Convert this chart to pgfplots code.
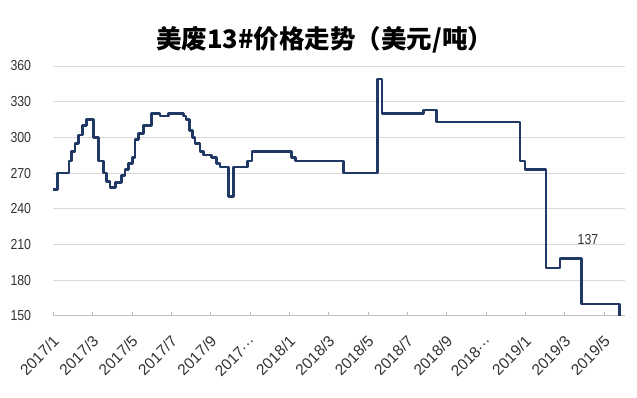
\documentclass[border=0pt]{standalone}
\usepackage{pgfplots}
\pgfplotsset{compat=1.18}
\usepackage{fontspec}
\setmainfont{Liberation Sans}[FakeStretch=0.85]
\newfontfamily\xfont{Liberation Sans}
\newfontfamily\cjk{Noto Sans CJK SC}
\definecolor{navy}{RGB}{31,56,100}
\definecolor{gridgray}{RGB}{217,217,217}
\definecolor{axgray}{RGB}{191,191,191}
\definecolor{txtgray}{RGB}{50,50,50}
\begin{document}
\begin{tikzpicture}[x=1pt,y=1pt]
\useasboundingbox (0,0) rectangle (637,398);
\begin{axis}[
  at={(53.3pt,82.3pt)}, anchor=south west,
  scale only axis, width=571.7pt, height=249.7pt,
  xmin=0, xmax=29.06, ymin=150, ymax=360,
  ytick={150,180,...,360},
  xtick={0,2,...,28},
  xticklabels={2017/1,2017/3,2017/5,2017/7,2017/9,2017···,2018/1,2018/3,2018/5,2018/7,2018/9,2018···,2019/1,2019/3,2019/5},
  /pgf/number format/assume math mode=true,
  ymajorgrids, grid style={gridgray, line width=0.8pt},
  axis x line*=bottom, axis y line*=left,
  y axis line style={draw=none},
  x axis line style={axgray, line width=0.8pt},
  ytick style={draw=none},
  xtick style={axgray, line width=0.8pt},
  tick align=inside, major tick length=4pt,
  yticklabel style={font=\fontsize{14.5}{16}\selectfont, text=txtgray, anchor=east, inner sep=0pt, xshift=-22pt},
  xticklabel style={font=\xfont\fontsize{15.5}{17}\selectfont, text=txtgray, xshift=3pt, yshift=-23pt, rotate=45, anchor=east, inner sep=0pt},
  title={\cjk\bfseries 美废13\#价格走势（美元/吨）},
  title style={at={(axis description cs:0.475,1)}, anchor=center, yshift=20pt, font=\fontsize{25.5}{28}\selectfont, inner sep=0pt},
  clip=false,
]
\addplot[const plot, navy, line width=2.6pt, line join=round] coordinates {
(0.00,256) (0.22,270) (0.80,280) (0.93,288) (1.10,295) (1.27,302) (1.47,310) (1.70,315)
(2.03,300) (2.29,280) (2.54,270) (2.71,263) (2.88,258) (3.17,262) (3.48,268) (3.65,273)
(3.81,278) (4.02,283) (4.15,298) (4.32,303) (4.58,310) (5.00,320) (5.42,318) (5.85,320)
(6.61,318) (6.75,315) (6.91,306) (7.09,300) (7.20,295) (7.46,288) (7.63,285) (8.05,283)
(8.31,278) (8.47,275) (8.92,250) (9.16,275) (9.86,280) (10.09,288) (12.12,283) (12.30,280)
(14.74,270) (16.47,349) (16.70,320) (18.81,323) (19.49,313) (23.73,280) (23.98,273)
(25.05,190) (25.76,198) (26.86,160) (28.78,150)
};
\node[font=\fontsize{14.5}{16}\selectfont, text=txtgray] at (axis cs:27.18,214) {137};
\end{axis}
\end{tikzpicture}
\end{document}
